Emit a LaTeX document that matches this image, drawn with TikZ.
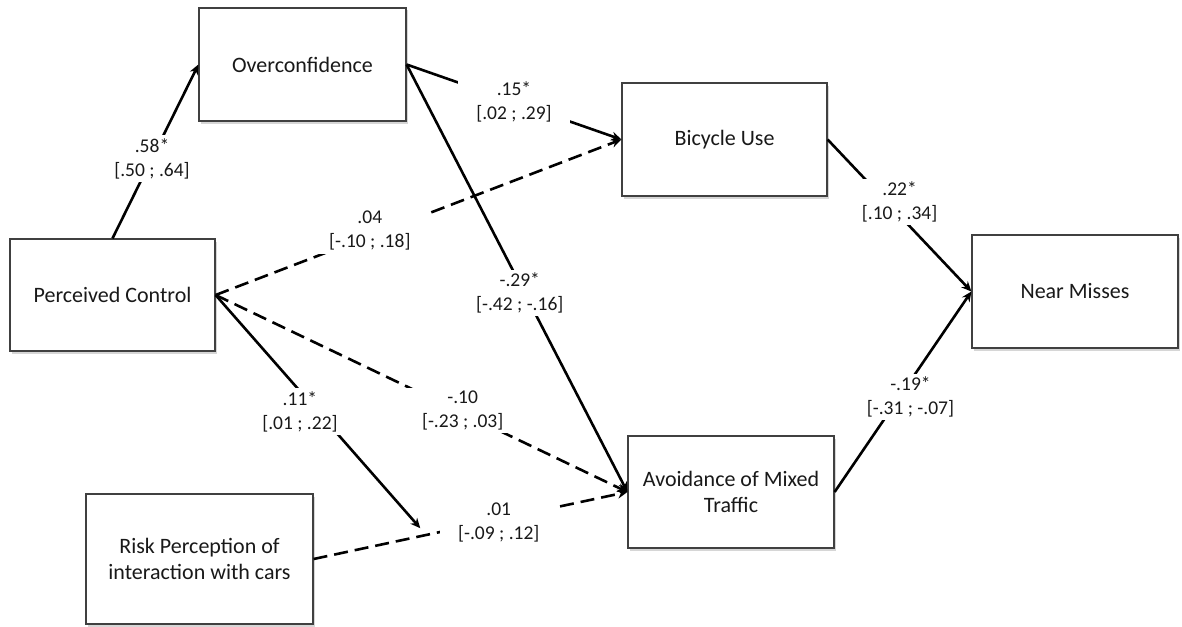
\documentclass[tikz,border=0pt]{standalone}
\usepackage{fontspec}
\setmainfont{Carlito}
\usetikzlibrary{arrows.meta,shadows,calc}
\begin{document}
\begin{tikzpicture}[x=1pt,y=-1pt,
  box/.style={draw=black!75, line width=1.2pt, fill=white, align=center, inner sep=0pt,
    font=\fontsize{22}{25.5}\selectfont, text=black!90,
    drop shadow={shadow xshift=1.5pt, shadow yshift=-2.5pt, opacity=0.35, fill=black!45}},
  lab/.style={fill=white, inner xsep=18pt, inner ysep=3pt, align=center,
    font=\fontsize{19.5}{24}\selectfont, text=black!90},
  conn/.style={line width=2.6pt, black, -{Stealth[length=10pt,width=9pt]}},
  dconn/.style={conn, dash pattern=on 14pt off 7pt}]
\useasboundingbox[fill=white] (0,0) rectangle (1182,626);

\node[box, minimum width=207pt, minimum height=113pt] (oc) at (302.5,64.5) {Overconfidence};
\node[box, minimum width=205pt, minimum height=112pt] (pc) at (112.5,295) {Perceived Control};
\node[box, minimum width=205pt, minimum height=113pt] (bu) at (724.5,139.5) {Bicycle Use};
\node[box, minimum width=206pt, minimum height=113pt] (nm) at (1075,291.5) {Near Misses};
\node[box, minimum width=206pt, minimum height=112pt] (av) at (731,492) {Avoidance of Mixed\\Traffic};
\node[box, minimum width=227pt, minimum height=130pt] (rp) at (199.5,559) {Risk Perception of\\interaction with cars};

\coordinate (hit) at ($(rp.east)!0.34!(av.west)$);

\draw[conn] (pc.north) -- node[lab, pos=0.46] {.58*\\{}[.50 ; .64]} (oc.west);
\draw[conn] (oc.east) -- node[lab, pos=0.5] {.15*\\{}[.02 ; .29]} (bu.west);
\draw[conn] (oc.east) -- node[lab, pos=0.535, xshift=-5pt] {-.29*\\{}[-.42 ; -.16]} (av.west);
\draw[dconn] (pc.east) -- node[lab, pos=0.38, yshift=5pt] {.04\\{}[-.10 ; .18]} (bu.west);
\draw[dconn] (pc.east) -- node[lab, pos=0.6, yshift=3pt] {-.10\\{}[-.23 ; .03]} (av.west);
\draw[dconn] (rp.east) -- node[lab, pos=0.59, yshift=-3pt] {.01\\{}[-.09 ; .12]} (av.west);
\draw[conn] (pc.east) -- node[lab, pos=0.5, xshift=-18pt] {.11*\\{}[.01 ; .22]} ([yshift=8pt]hit);
\draw[conn] (bu.east) -- node[lab, pos=0.41, xshift=13pt] {.22*\\{}[.10 ; .34]} (nm.west);
\draw[conn] (av.east) -- node[lab, pos=0.474, xshift=11pt] {-.19*\\{}[-.31 ; -.07]} (nm.west);
\end{tikzpicture}
\end{document}
